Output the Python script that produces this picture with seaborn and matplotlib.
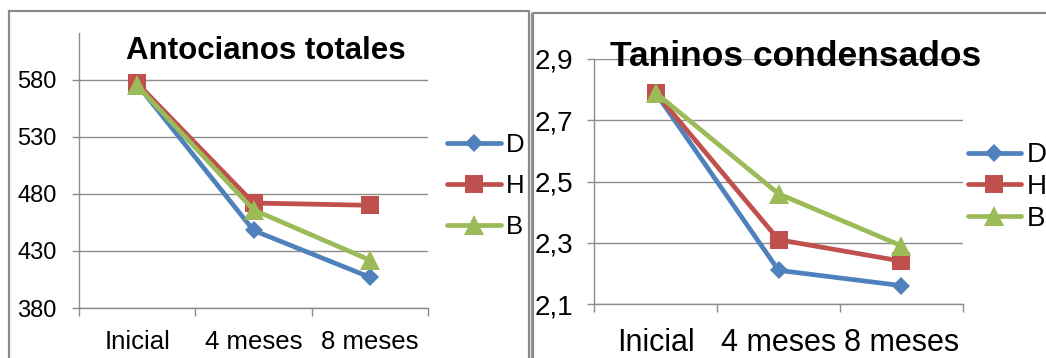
import matplotlib
matplotlib.use("Agg")
import matplotlib.pyplot as plt
from matplotlib.patches import Rectangle
from matplotlib.ticker import FixedLocator, FuncFormatter
import seaborn as sns
import pandas as pd

# ---- data ----
periodos = ["Inicial", "4 meses", "8 meses"]
series = ["D", "H", "B"]

antocianos_D = [576, 448, 407]
antocianos_H = [577, 472, 470]
antocianos_B = [575, 466, 422]

taninos_D = [2.79, 2.21, 2.16]
taninos_H = [2.79, 2.31, 2.24]
taninos_B = [2.79, 2.46, 2.29]

ticks_antocianos = [380, 430, 480, 530, 580]
ticks_taninos = [2.1, 2.3, 2.5, 2.7, 2.9]


def to_long(d, h, b):
    rows = []
    for name, vals in zip(series, [d, h, b]):
        for p, v in zip(periodos, vals):
            rows.append({"Periodo": p, "Serie": name, "Valor": v})
    return pd.DataFrame(rows)


df_ant = to_long(antocianos_D, antocianos_H, antocianos_B)
df_tan = to_long(taninos_D, taninos_H, taninos_B)

sns.set_theme(style="white")
plt.rcParams["font.family"] = ["Liberation Sans", "DejaVu Sans"]
plt.rcParams["text.color"] = "black"

W, H = 1046, 358
fig = plt.figure(figsize=(W / 100, H / 100), dpi=100)

palette = {"D": "#4F81BD", "H": "#C0504D", "B": "#9BBB59"}
markers = {"D": "D", "H": "s", "B": "^"}
msizes = {"D": 9.5, "H": 12.5, "B": 14}
GRID = "#8C8C8C"


def px_axes(x0, y0, x1, y1):
    return fig.add_axes([x0 / W, 1 - y1 / H, (x1 - x0) / W, (y1 - y0) / H])


# chart frames
fig.add_artist(Rectangle((9 / W, -0.1), (529 - 9) / W, 1.1 - 11 / H,
                         transform=fig.transFigure, fill=False,
                         edgecolor="#8A8A8A", linewidth=1.6))
fig.add_artist(Rectangle((533 / W, -0.1), 0.6, 1.1 - 13 / H,
                         transform=fig.transFigure, fill=False,
                         edgecolor="#8A8A8A", linewidth=1.6))
fig.add_artist(plt.Line2D([531 / W, 531 / W], [0, 1 - 13 / H],
                          transform=fig.transFigure, color="#9A9A9A", linewidth=1.0))


def draw(ax, df, yticks, ylim, fmt, ylab_size, xlab_size, ypad, xpad,
         leg_size, leg_anchor, handlelen, labelspacing):
    sns.lineplot(data=df, x="Periodo", y="Valor", hue="Serie", style="Serie",
                 hue_order=series, style_order=series, palette=palette,
                 markers=markers, dashes=False, linewidth=3.4,
                 markeredgewidth=0, ax=ax, sort=False, legend=True)
    for line, s in zip(ax.get_lines(), series):
        line.set_markersize(msizes[s])
    ax.set_xlim(-0.5, 2.5)
    ax.set_ylim(*ylim)
    ax.yaxis.set_major_locator(FixedLocator(yticks))
    ax.yaxis.set_major_formatter(FuncFormatter(fmt))
    ax.grid(axis="y", color=GRID, linewidth=1.0)
    ax.set_axisbelow(True)
    ax.xaxis.set_major_locator(FixedLocator([-0.5, 0.5, 1.5, 2.5]))
    ax.xaxis.set_major_formatter(FuncFormatter(lambda v, p: ""))
    ax.xaxis.set_minor_locator(FixedLocator([0, 1, 2]))
    ax.xaxis.set_minor_formatter(FuncFormatter(lambda v, p: periodos[int(round(v))]))
    ax.tick_params(axis="x", which="major", direction="out", length=6,
                   width=1.0, color=GRID, bottom=True)
    ax.tick_params(axis="x", which="minor", length=0, pad=xpad,
                   labelsize=xlab_size, labelcolor="black")
    ax.tick_params(axis="y", direction="out", length=5, width=1.0, color=GRID,
                   left=True, pad=ypad, labelsize=ylab_size, labelcolor="black")
    for side in ["top", "right"]:
        ax.spines[side].set_visible(False)
    for side in ["left", "bottom"]:
        ax.spines[side].set_color(GRID)
        ax.spines[side].set_linewidth(1.0)
    ax.set_xlabel("")
    ax.set_ylabel("")
    handles, labels = ax.get_legend_handles_labels()
    for hd, s in zip(handles, series):
        hd.set_markersize(msizes[s])
    leg = ax.legend(handles, labels, loc="center left",
                    bbox_to_anchor=leg_anchor, bbox_transform=fig.transFigure,
                    frameon=False, fontsize=leg_size, handlelength=handlelen,
                    handletextpad=0.2, labelspacing=labelspacing, borderpad=0,
                    borderaxespad=0)
    for t in leg.get_texts():
        t.set_color("black")


ax1 = px_axes(79, 33, 428, 308)
draw(ax1, df_ant, ticks_antocianos, (380, 621), lambda v, p: f"{v:.0f}",
     17, 18.5, 11, 16, 18.5, (447 / W, 1 - 186 / H), 2.1, 0.65)

ax2 = px_axes(594, 59, 963, 304)
draw(ax2, df_tan, ticks_taninos, (2.1, 2.9),
     lambda v, p: f"{v:.1f}".replace(".", ","),
     20, 22, 10, 17, 20, (968 / W, 1 - 187 / H), 1.9, 0.2)

fig.text(266 / W, 1 - 51 / H, "Antocianos totales", ha="center", va="center",
         fontsize=22.5, fontweight="bold", color="black")
fig.text(796 / W, 1 - 56 / H, "Taninos condensados", ha="center", va="center",
         fontsize=25.5, fontweight="bold", color="black")

fig.savefig("out.png", dpi=100)
